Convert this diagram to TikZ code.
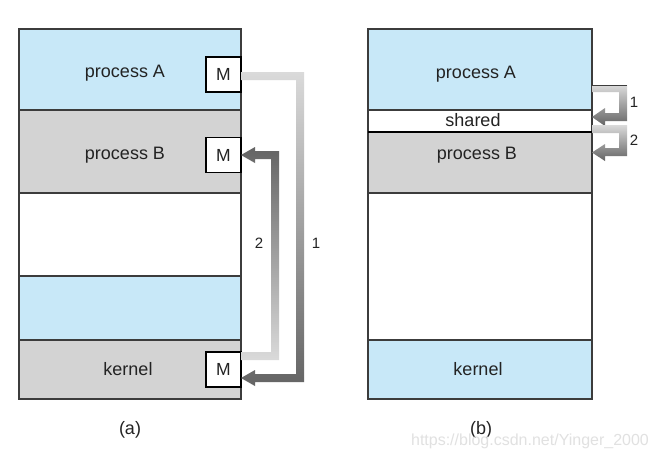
\documentclass[tikz,border=0pt]{standalone}
\usepackage{fontspec}
\setmainfont{Liberation Sans}
\usetikzlibrary{calc}
\definecolor{bandblue}{RGB}{200,232,248}
\definecolor{bandgray}{RGB}{211,211,211}
\definecolor{edge}{RGB}{60,60,60}
\definecolor{txt}{RGB}{35,35,35}
\definecolor{arlight}{RGB}{218,218,218}
\definecolor{ardark}{RGB}{100,100,100}
\definecolor{wmark}{RGB}{225,225,225}
\begin{document}
\begin{tikzpicture}[x=1pt,y=-1pt,
  band/.style={draw=edge, line width=1.2pt, inner sep=0pt, outer sep=0pt, anchor=north west, minimum height=#1},
  bandA/.style={band=#1, minimum width=222pt},
  bandB/.style={band=#1, minimum width=224pt},
  mbox/.style={draw=black, line width=1.5pt, fill=white, minimum width=35pt, minimum height=35pt, inner sep=0pt, outer sep=0pt, anchor=east, font=\fontsize{17.5}{20}\selectfont, text=txt},
  lbl/.style={font=\fontsize{18}{21}\selectfont, text=txt, inner sep=0pt},
  num/.style={font=\fontsize{15}{18}\selectfont, text=txt, inner sep=0pt}]
\fill[white] (0,0) rectangle (658,459);
\useasboundingbox (0,0) rectangle (658,459);

% ---- (a) ----
\node[bandA=81pt, fill=bandblue] (aA) at (19,29) {};
\node[bandA=83pt, fill=bandgray] (aB) at (19,110) {};
\node[bandA=83pt, fill=white] (aE) at (19,193) {};
\node[bandA=64pt, fill=bandblue] (aF) at (19,276) {};
\node[bandA=59pt, fill=bandgray] (aK) at (19,340) {};
\node[lbl] (aAl) at (125,73) {process A};
\node[lbl] (aBl) at (125,155) {process B};
\node[lbl] (aKl) at (128,369) {kernel};
\node[mbox] (mA) at (241,74.5) {M};
\node[mbox] (mB) at (241,155) {M};
\node[mbox] (mK) at (241,369.5) {M};

% arrow 1: A -> kernel
\shade[top color=arlight, bottom color=ardark]
  (mA.east |- 0,72) -- (304,72) -- (304,382) -- (255,382) -- (255,386)
  -- (mK.east |- 0,378) -- (255,370) -- (255,374) -- (296,374) -- (296,80)
  -- (mA.east |- 0,80) -- cycle;
% arrow 2: kernel -> B
\shade[top color=ardark, bottom color=arlight]
  (mK.east |- 0,352) -- (271,352) -- (271,159) -- (255,159) -- (255,163)
  -- (mB.east |- 0,155) -- (255,147) -- (255,151) -- (279,151) -- (279,360)
  -- (mK.east |- 0,360) -- cycle;
\node[num] (n2a) at (259,243) {2};
\node[num] (n1a) at (316,243) {1};
\node[lbl] (capa) at (130,430) {(a)};

% ---- (b) ----
\node[bandB=81pt, fill=bandblue] (bA) at (368,29) {};
\node[bandB=22pt, fill=white] (bS) at (368,110) {};
\node[bandB=61pt, fill=bandgray] (bB) at (368,132) {};
\node[bandB=147pt, fill=white] (bE) at (368,193) {};
\node[bandB=59pt, fill=bandblue] (bK) at (368,340) {};
\draw[black, line width=2.5pt] (bS.south west) -- (bS.south east);
\node[lbl] (bAl) at (476,74) {process A};
\node[lbl] (bSl) at (473,120) {shared};
\node[lbl] (bBl) at (477,155) {process B};
\node[lbl] (bKl) at (478,369) {kernel};

\shade[top color=arlight, bottom color=ardark]
  (bA.east |- 0,85) -- (627,85) -- (627,121) -- (605,121) -- (605,126)
  -- (bS.east |- 0,117) -- (605,108) -- (605,113) -- (619,113) -- (619,92)
  -- (bA.east |- 0,92) -- cycle;
\draw[edge, line width=1pt] (bA.east |- 0,85) -- (627,85);
\shade[top color=arlight, bottom color=ardark]
  (bS.east |- 0,125) -- (627,125) -- (627,156) -- (605,156) -- (605,161)
  -- (bB.east |- 0,152.5) -- (605,144) -- (605,148) -- (619,148) -- (619,133)
  -- (bS.east |- 0,133) -- cycle;
\node[num] (n1b) at (634,102) {1};
\node[num] (n2b) at (634,140) {2};
\node[lbl] (capb) at (481,430) {(b)};
\node[font=\fontsize{16}{18}\selectfont, text=wmark, inner sep=0pt] (wm) at (530,441) {https://blog.csdn.net/Yinger\_2000};
\end{tikzpicture}
\end{document}
